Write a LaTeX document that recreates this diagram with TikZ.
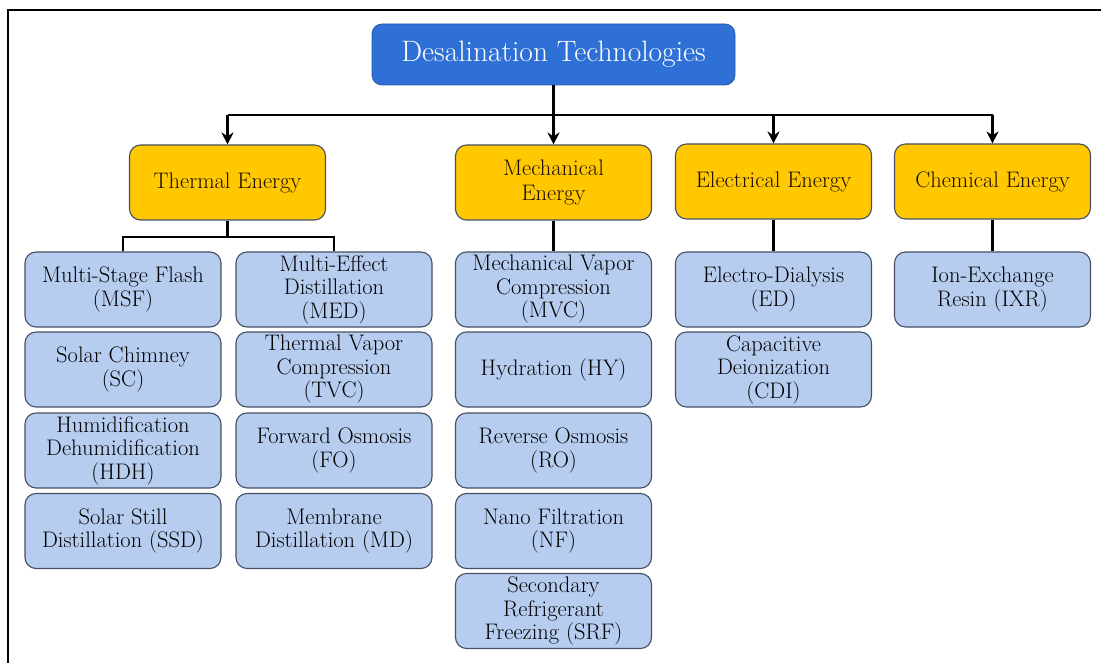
\documentclass[tikz,border=0pt]{standalone}
\usetikzlibrary{arrows.meta}
\definecolor{rootblue}{RGB}{47,112,214}
\definecolor{energyyellow}{RGB}{255,200,0}
\definecolor{leafblue}{RGB}{183,205,240}
\definecolor{boxedge}{RGB}{70,80,100}
\definecolor{darktext}{RGB}{30,15,0}
\tikzset{
  rootbox/.style={draw=rootblue!80!black, line width=0.8pt, fill=rootblue, rounded corners=10pt,
    minimum width=363pt, minimum height=61pt, text=white, font=\fontsize{29.5}{32}\selectfont, inner sep=0pt},
  energybox/.style={draw=boxedge, line width=1.1pt, fill=energyyellow, rounded corners=11pt,
    minimum width=196pt, minimum height=75pt, align=center, text=darktext,
    font=\fontsize{22.5}{25}\selectfont, inner sep=0pt},
  leafbox/.style={draw=boxedge, line width=1.1pt, fill=leafblue, rounded corners=11pt,
    minimum width=196pt, minimum height=75pt, align=center, text=black,
    font=\fontsize{22.5}{23.5}\selectfont, inner sep=0pt},
  link/.style={line width=2.2pt, black},
  arrowlink/.style={link, -{Stealth[length=12pt,width=12pt,inset=4pt]}},
  frameline/.style={line width=2pt, black}
}
\begin{document}
\begin{tikzpicture}[x=1pt,y=-1pt]
\useasboundingbox (0,0) rectangle (1101,663);
% frame (top and left edges)
\coordinate (fbl) at (8,663);
\coordinate (ftl) at (8,10);
\coordinate (ftr) at (1101,10);
\draw[frameline] (fbl) -- (ftl) -- (ftr);

% root
\node[rootbox] (root) at (553.5,54.5) {Desalination Technologies};

% energy level
\node[energybox] (thermal) at (227.5,182.5) {Thermal Energy};
\node[energybox] (mech) at (553.5,182.5) {Mechanical\\Energy};
\node[energybox] (elec) at (773.5,181.5) {Electrical Energy};
\node[energybox] (chem) at (992.5,181.5) {Chemical Energy};

% leaves: thermal
\node[leafbox] (msf) at (123,289.5) {Multi-Stage Flash\\(MSF)};
\node[leafbox] (sc)  at (123,369.5) {Solar Chimney\\(SC)};
\node[leafbox] (hdh) at (123,450.5) {Humidification\\Dehumidification\\(HDH)};
\node[leafbox] (ssd) at (123,531) {Solar Still\\Distillation (SSD)};
\node[leafbox] (med) at (334,289.5) {Multi-Effect\\Distillation\\(MED)};
\node[leafbox] (tvc) at (334,369.5) {Thermal Vapor\\Compression\\(TVC)};
\node[leafbox] (fo)  at (334,450.5) {Forward Osmosis\\(FO)};
\node[leafbox] (md)  at (334,531) {Membrane\\Distillation (MD)};
% leaves: mechanical
\node[leafbox] (mvc) at (553.5,289.5) {Mechanical Vapor\\Compression\\(MVC)};
\node[leafbox] (hy)  at (553.5,369.5) {Hydration (HY)};
\node[leafbox] (ro)  at (553.5,450.5) {Reverse Osmosis\\(RO)};
\node[leafbox] (nf)  at (553.5,531) {Nano Filtration\\(NF)};
\node[leafbox] (srf) at (553.5,611) {Secondary\\Refrigerant\\Freezing (SRF)};
% leaves: electrical
\node[leafbox] (ed)  at (773.5,289.5) {Electro-Dialysis\\(ED)};
\node[leafbox] (cdi) at (773.5,369.5) {Capacitive\\Deionization\\(CDI)};
% leaves: chemical
\node[leafbox] (ixr) at (992.5,289.5) {Ion-Exchange\\Resin (IXR)};

% root connectors
\coordinate (rj) at (553.5,115);
\draw[link] (root.south) -- (rj);
\draw[link] (thermal.north |- rj) -- (chem.north |- rj);
\draw[arrowlink] (thermal.north |- rj) -- (thermal.north);
\draw[arrowlink] (mech.north |- rj) -- (mech.north);
\draw[arrowlink] (elec.north |- rj) -- (elec.north);
\draw[arrowlink] (chem.north |- rj) -- (chem.north);

% thermal split
\coordinate (tj) at (227.5,237);
\draw[link] (thermal.south) -- (tj);
\draw[link] (msf.north) -- (msf.north |- tj) -- (med.north |- tj) -- (med.north);

% other energy connectors
\draw[link] (mech.south) -- (mvc.north);
\draw[link] (elec.south) -- (ed.north);
\draw[link] (chem.south) -- (ixr.north);
\end{tikzpicture}
\end{document}
